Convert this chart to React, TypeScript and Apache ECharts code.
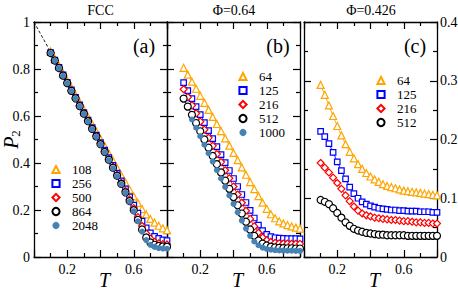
import React, { useEffect, useRef } from 'react';
import * as echarts from 'echarts';

const T = [0.1, 0.125, 0.15, 0.175, 0.2, 0.225, 0.25, 0.275, 0.3, 0.325, 0.35, 0.375, 0.4, 0.425, 0.45, 0.475, 0.5, 0.525, 0.55, 0.575, 0.6, 0.625, 0.65, 0.675, 0.7, 0.725, 0.75, 0.775, 0.8];

// Panel (a) FCC
const fccNames = ['108', '256', '500', '864', '2048'];
const a108 = [0.875, 0.844, 0.813, 0.782, 0.751, 0.720, 0.689, 0.658, 0.627, 0.596, 0.565, 0.534, 0.503, 0.472, 0.441, 0.410, 0.379, 0.348, 0.317, 0.287, 0.258, 0.230, 0.204, 0.181, 0.162, 0.146, 0.133, 0.122, 0.114];
const a256 = [0.870, 0.838, 0.807, 0.775, 0.743, 0.711, 0.679, 0.647, 0.615, 0.583, 0.551, 0.519, 0.487, 0.455, 0.423, 0.390, 0.357, 0.324, 0.290, 0.256, 0.221, 0.187, 0.153, 0.124, 0.103, 0.088, 0.079, 0.073, 0.070];
const a500 = [0.869, 0.837, 0.805, 0.773, 0.741, 0.709, 0.677, 0.645, 0.612, 0.580, 0.548, 0.515, 0.483, 0.450, 0.417, 0.384, 0.350, 0.316, 0.281, 0.245, 0.208, 0.170, 0.132, 0.100, 0.078, 0.065, 0.058, 0.055, 0.054];
const a864 = [0.868, 0.836, 0.804, 0.772, 0.740, 0.707, 0.675, 0.642, 0.610, 0.578, 0.545, 0.513, 0.480, 0.447, 0.414, 0.380, 0.346, 0.311, 0.275, 0.238, 0.199, 0.158, 0.117, 0.083, 0.062, 0.052, 0.047, 0.045, 0.044];
const a2048 = [0.868, 0.836, 0.803, 0.771, 0.739, 0.706, 0.674, 0.641, 0.609, 0.576, 0.544, 0.511, 0.478, 0.445, 0.412, 0.378, 0.344, 0.309, 0.273, 0.235, 0.195, 0.152, 0.108, 0.072, 0.052, 0.043, 0.038, 0.036, 0.035];
const fccGuide = [[0, 1], [0.09, 0.885]];

// Panel (b) Phi=0.64
const b64Names = ['64', '125', '216', '512', '1000'];
const b64 = [0.805, 0.776, 0.746, 0.716, 0.686, 0.656, 0.626, 0.596, 0.566, 0.536, 0.505, 0.474, 0.443, 0.412, 0.381, 0.350, 0.319, 0.289, 0.259, 0.231, 0.205, 0.182, 0.165, 0.152, 0.143, 0.136, 0.130, 0.125, 0.121];
const b125 = [0.742, 0.708, 0.674, 0.640, 0.606, 0.572, 0.538, 0.504, 0.470, 0.436, 0.402, 0.368, 0.334, 0.300, 0.266, 0.232, 0.198, 0.166, 0.136, 0.112, 0.096, 0.087, 0.082, 0.080, 0.079, 0.078, 0.078, 0.078, 0.077];
const b216 = [0.714, 0.680, 0.645, 0.611, 0.576, 0.542, 0.507, 0.473, 0.438, 0.404, 0.369, 0.335, 0.300, 0.266, 0.231, 0.197, 0.162, 0.130, 0.103, 0.083, 0.071, 0.064, 0.060, 0.058, 0.057, 0.057, 0.056, 0.056, 0.056];
const b512 = [0.674, 0.640, 0.605, 0.570, 0.535, 0.500, 0.465, 0.430, 0.395, 0.360, 0.325, 0.290, 0.255, 0.220, 0.185, 0.150, 0.117, 0.090, 0.070, 0.057, 0.049, 0.044, 0.041, 0.039, 0.038, 0.037, 0.037, 0.036, 0.036];
const b1000 = [null, null, 0.585, 0.550, 0.514, 0.478, 0.442, 0.406, 0.370, 0.334, 0.298, 0.262, 0.226, 0.190, 0.155, 0.121, 0.090, 0.066, 0.050, 0.040, 0.034, 0.031, 0.029, 0.028, 0.027, 0.027, 0.027, 0.026, 0.026];

// Panel (c) Phi=0.426
const c426Names = ['64', '125', '216', '512'];
const c64 = [0.293, 0.276, 0.258, 0.240, 0.223, 0.207, 0.192, 0.179, 0.168, 0.158, 0.150, 0.143, 0.137, 0.132, 0.128, 0.124, 0.121, 0.119, 0.117, 0.115, 0.113, 0.112, 0.111, 0.110, 0.109, 0.108, 0.107, 0.106, 0.105];
const c125 = [0.214, 0.205, 0.193, 0.178, 0.162, 0.147, 0.133, 0.119, 0.108, 0.100, 0.094, 0.090, 0.087, 0.085, 0.083, 0.082, 0.081, 0.080, 0.080, 0.079, 0.079, 0.078, 0.078, 0.078, 0.077, 0.077, 0.077, 0.076, 0.076];
const c216 = [0.160, 0.152, 0.144, 0.135, 0.126, 0.116, 0.105, 0.095, 0.086, 0.079, 0.074, 0.071, 0.069, 0.067, 0.066, 0.065, 0.064, 0.063, 0.063, 0.062, 0.061, 0.061, 0.060, 0.059, 0.059, 0.058, 0.058, 0.057, 0.057];
const c512 = [0.097, 0.094, 0.090, 0.083, 0.075, 0.067, 0.059, 0.053, 0.048, 0.045, 0.043, 0.041, 0.040, 0.039, 0.038, 0.038, 0.037, 0.037, 0.037, 0.037, 0.037, 0.036, 0.036, 0.036, 0.036, 0.036, 0.036, 0.036, 0.036];

const xLabelTicks = [0.2, 0.6];
const panelTitles = ['FCC', 'Φ=0.64', 'Φ=0.426'];
const panelTags = ['(a)', '(b)', '(c)'];

const FONT = 'Liberation Serif';

const markStyles = [
  { symbol: 'triangle', color: '#FFA500', size: 7, fill: '#fff' },
  { symbol: 'rect', color: '#0000FF', size: 5.5, fill: '#fff' },
  { symbol: 'diamond', color: '#FF0000', size: 7, fill: '#fff' },
  { symbol: 'circle', color: '#000000', size: 7, fill: '#fff' },
  { symbol: 'circle', color: '#4682B4', size: 6, fill: '#4682B4' },
];

const grids = [
  { left: 34, top: 22, width: 133, height: 235 },
  { left: 167, top: 22, width: 133, height: 235 },
  { left: 304, top: 22, width: 133, height: 235 },
];

function fmt(v: number) {
  return String(+v.toFixed(3));
}

function makeSeries(names: string[], arrays: (number | null)[][], axisIdx: number) {
  return arrays.map((vals, k) => {
    const st = markStyles[k];
    return {
      type: 'line',
      name: names[k],
      xAxisIndex: axisIdx * 2,
      yAxisIndex: axisIdx * 2,
      data: T.map((t, i) => [t, vals[i]]).filter((d) => d[1] !== null),
      symbol: st.symbol,
      symbolSize: st.size,
      showSymbol: true,
      itemStyle: {
        color: st.fill,
        borderColor: st.color,
        borderWidth: k === 4 ? 0 : 1.2,
      },
      lineStyle: { color: st.color, width: 0.9 },
      emphasis: { disabled: true },
    };
  });
}

export default function App() {
  const ref = useRef<HTMLDivElement>(null);
  useEffect(() => {
    document.body.style.margin = '0';
    const chart = echarts.init(ref.current!, undefined, { renderer: 'svg' });
    const axisLine = { show: true, onZero: false, lineStyle: { color: '#000', width: 1.3 } };
    const tick = { show: true, inside: true, length: 7, lineStyle: { color: '#000', width: 1.2 } };
    const xAxes: any[] = [];
    const yAxes: any[] = [];
    for (let g = 0; g < 3; g++) {
      const base = {
        type: 'value',
        gridIndex: g,
        min: 0,
        max: 0.8,
        interval: 0.2,
        axisLine,
        axisTick: tick,
        minorTick: { show: true, splitNumber: 2, length: 4, lineStyle: { color: '#000', width: 1.2 } },
        splitLine: { show: false },
      };
      xAxes.push({
        ...base,
        position: 'bottom',
        axisLabel: {
          show: true,
          margin: 5,
          color: '#000',
          fontFamily: FONT,
          fontSize: 14,
          formatter: (v: number) => (xLabelTicks.includes(+v.toFixed(2)) ? fmt(v) : ''),
        },
        name: 'T',
        nameLocation: 'middle',
        nameGap: 13,
        nameMoveOverlap: false,
        nameTextStyle: { fontFamily: FONT, fontStyle: 'italic', fontSize: 20, lineHeight: 19, color: '#000', padding: [0, 0, 0, 8] },
      });
      xAxes.push({ ...base, position: 'top', axisLabel: { show: false } });

      const yMax = g === 2 ? 0.4 : 1;
      const yInt = g === 2 ? 0.1 : 0.2;
      const ybase = {
        type: 'value',
        gridIndex: g,
        min: 0,
        max: yMax,
        interval: yInt,
        axisLine,
        axisTick: tick,
        minorTick: { show: true, splitNumber: 2, length: 4, lineStyle: { color: '#000', width: 1.2 } },
        splitLine: { show: false },
      };
      const labelStyle = { show: true, margin: 4, color: '#000', fontFamily: FONT, fontSize: 14, formatter: fmt };
      yAxes.push({
        ...ybase,
        position: 'left',
        axisLabel: g === 0 ? labelStyle : { show: false },
        ...(g === 0
          ? {
              name: '{p|P}{s|2}',
              nameLocation: 'middle',
              nameGap: 12,
              nameMoveOverlap: false,
              nameRotate: 90,
              nameTextStyle: {
                color: '#000',
                rich: {
                  p: { fontFamily: FONT, fontStyle: 'italic', fontSize: 20, lineHeight: 19, verticalAlign: 'top', color: '#000' },
                  s: { fontFamily: FONT, fontSize: 13, lineHeight: 21, verticalAlign: 'bottom', color: '#000' },
                },
              },
            }
          : {}),
      });
      yAxes.push({
        ...ybase,
        position: 'right',
        axisLabel: g === 2 ? { ...labelStyle, margin: 3 } : { show: false },
      });
    }

    const series: any[] = [
      ...makeSeries(fccNames, [a108, a256, a500, a864, a2048], 0),
      {
        type: 'line',
        name: 'guide',
        xAxisIndex: 0,
        yAxisIndex: 0,
        data: fccGuide,
        symbol: 'none',
        lineStyle: { color: '#000', width: 0.9, type: [3, 2] },
        emphasis: { disabled: true },
      },
      ...makeSeries(b64Names, [b64, b125, b216, b512, b1000], 1),
      ...makeSeries(c426Names, [c64, c125, c216, c512], 2),
    ];

    const legendBase = {
      orient: 'vertical',
      padding: 0,
      itemWidth: 14,
      itemHeight: 9,
      itemGap: 1,
      selectedMode: false,
      lineStyle: { opacity: 0 },
      textStyle: { fontFamily: FONT, fontSize: 13, color: '#000', padding: [0, 0, 0, 4], lineHeight: 13 },
    };

    const titleCenters = [100.5, 234, 371];
    const tagCenters = [144, 278, 415];

    chart.setOption({
      animation: false,
      backgroundColor: '#fff',
      grid: grids.map((g) => ({ ...g, containLabel: false, outerBoundsMode: 'none' })),
      xAxis: xAxes,
      yAxis: yAxes,
      series,
      legend: [
        { ...legendBase, data: fccNames, left: 48, top: 163 },
        { ...legendBase, data: b64Names, left: 235, top: 70 },
        { ...legendBase, data: c426Names, left: 373, top: 74 },
      ],
      graphic: [
        ...panelTitles.map((t, i) => ({
          type: 'text',
          x: titleCenters[i],
          y: 10,
          style: { text: t, fontFamily: FONT, fontSize: 14, fill: '#000', align: 'center', verticalAlign: 'middle' },
        })),
        ...panelTags.map((t, i) => ({
          type: 'text',
          x: tagCenters[i],
          y: 46,
          style: { text: t, fontFamily: FONT, fontSize: 20, fill: '#000', align: 'center', verticalAlign: 'middle' },
        })),
      ],
    });
    return () => chart.dispose();
  }, []);
  return <div ref={ref} style={{ width: 458, height: 290 }} />;
}
